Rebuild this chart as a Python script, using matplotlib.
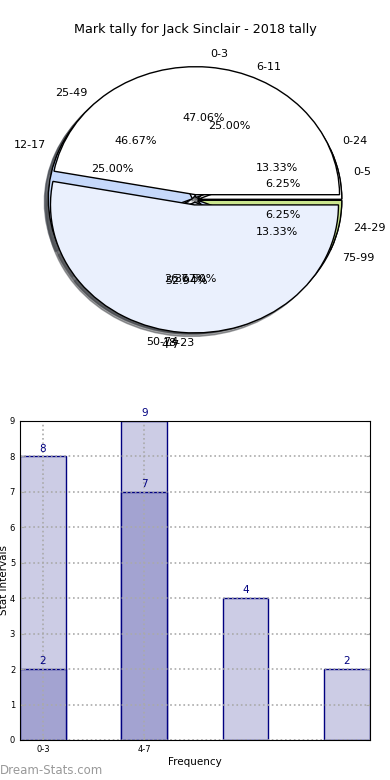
import numpy as np
import matplotlib.pyplot as plt

# pie data (three tallies drawn on the same axes)
pie_b_labels = ['0-24', '25-49', '50-74', '75-99']
pie_b_values = [2, 7, 4, 2]
pie_c_labels = ['0-5', '6-11', '12-17', '18-23', '24-29']
pie_c_values = [1, 4, 4, 6, 1]
pie_a_labels = ['0-3', '4-7']
pie_a_values = [8, 9]

# bar data
bar_ticks = ['0-3', '4-7']
light_values = [8, 9, 4, 2]
dark_values = [2, 7]

white = '#ffffff'
lavender = '#eaf0fd'
light_blue = '#c6d9fb'
green = '#cbe68e'

fig = plt.figure(figsize=(3.9, 7.8), dpi=100)
fig.text(0.5, 1 - 30 / 780, 'Mark tally for Jack Sinclair - 2018 tally',
         ha='center', va='center', fontsize=9.2)

ax1 = fig.add_axes([0.02, 0.5305, 0.96, 0.4267])
wp = {'linewidth': 1, 'edgecolor': 'black'}
ax1.pie(pie_b_values, labels=pie_b_labels, autopct='%1.2f%%', startangle=0,
        colors=[white, lavender, light_blue, light_blue], shadow=True,
        explode=[0.02] * 4, wedgeprops=wp, textprops={'fontsize': 8})
_, texts_c, _ = ax1.pie(pie_c_values, labels=pie_c_labels, autopct='%1.2f%%',
                        startangle=0,
                        colors=[white, lavender, light_blue, lavender, green],
                        shadow=True, explode=[0.02] * 5, wedgeprops=wp,
                        textprops={'fontsize': 8})
ax1.pie(pie_a_values, labels=pie_a_labels, autopct='%1.2f%%', startangle=0,
        colors=[white, lavender], shadow=True, explode=[0.04, 0.04],
        wedgeprops=wp, textprops={'fontsize': 8})
# bottom label sits on the right-aligned side, like the other bottom labels
texts_c[3].set_horizontalalignment('right')
ax1.set_aspect('auto')
ax1.set_xlim(-1.3, 1.3)
ax1.set_ylim(-1.3, 1.3)
ax1.axis('off')

ax2 = fig.add_axes([0.0513, 0.0513, 0.897, 0.409])
width = 0.45
x = np.arange(len(light_values))
ax2.bar(x, light_values, width, align='edge', color='#ccccE5',
        edgecolor='#000080', linewidth=1, zorder=1)
ax2.bar(x[:len(dark_values)], dark_values, width, align='edge', color='#a3a3d1',
        edgecolor='#000080', linewidth=1, zorder=1.5)
for xi, v in zip(x, light_values):
    ax2.text(xi + width / 2, v + 0.08, str(v), ha='center', va='bottom',
             color='#000080', fontsize=7.5)
for xi, v in zip(x, dark_values):
    ax2.text(xi + width / 2, v + 0.08, str(v), ha='center', va='bottom',
             color='#000080', fontsize=7.5)

ax2.set_xlim(0, len(light_values) - 1 + width)
ax2.set_ylim(0, 9)
ax2.set_yticks(range(10))
ax2.set_xticks(x[:len(bar_ticks)] + width / 2)
ax2.set_xticklabels(bar_ticks)
ax2.tick_params(labelsize=6, direction='in', length=3, color='#aaaaaa',
                right=True, top=False)
ax2.set_axisbelow(False)
ax2.grid(True, linestyle=':', color='#aaaaaa', linewidth=1.2)
for s in ax2.spines.values():
    s.set_zorder(3)
ax2.set_xlabel('Frequency', fontsize=7.5, labelpad=2)
ax2.set_ylabel('Stat Intervals', fontsize=7.5)
ax2.yaxis.set_label_coords(-0.031, 0.5)

fig.text(0.0, 1 - 771 / 780, 'Dream-Stats.com', ha='left', va='center',
         fontsize=8.5, color='#999999')

fig.savefig('out.png', dpi=100)
